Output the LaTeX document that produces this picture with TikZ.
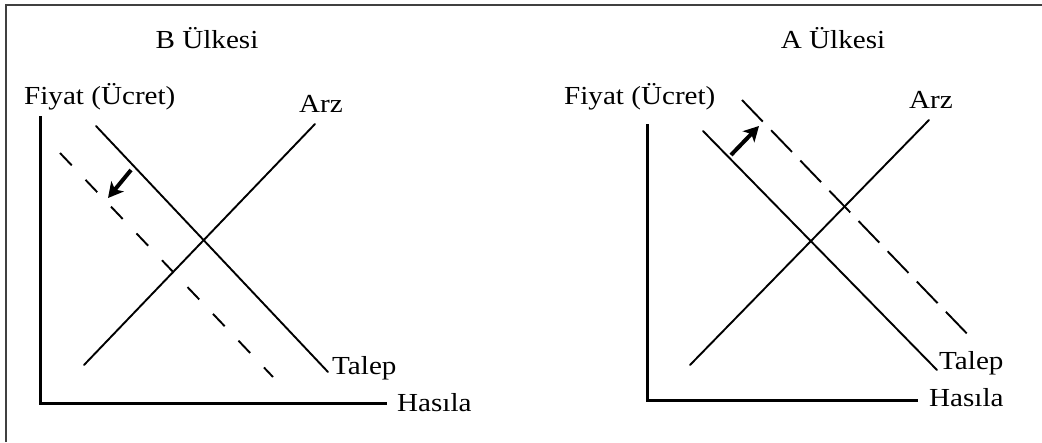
\documentclass[tikz,border=0pt]{standalone}
\usepackage{fontspec}
\usepackage{graphicx}
\setmainfont{Liberation Serif}
\usetikzlibrary{arrows.meta}
\newcommand{\widetxt}[1]{\scalebox{1.12}[1.0]{#1}}
\begin{document}
\begin{tikzpicture}[x=1pt,y=-1pt,
  lbl/.style={font=\fontsize{26}{30}\selectfont, inner sep=0pt},
  axis/.style={line width=3pt, line cap=rect},
  curve/.style={line width=1.9pt, line cap=round},
  shiftL/.style={line width=1.9pt, dash pattern=on 17pt off 20pt},
  shiftR/.style={line width=1.9pt, dash pattern=on 30pt off 12pt},
  shiftarrow/.style={line width=4pt, -{Stealth[length=15pt,width=16pt,inset=4pt]}},
  frame/.style={line width=2pt, draw=black!75}]
\useasboundingbox (0,0) rectangle (1042,442);
\fill[white] (0,0) rectangle (1042,442);
% frame
\coordinate (f1) at (6,442);
\coordinate (f2) at (6,5);
\coordinate (f3) at (1042,5);
\draw[frame] (f1) -- (f2) -- (f3);

% ---------- left panel: B Ulkesi ----------
\node[lbl] (titleB) at (207,38) {\widetxt{B Ülkesi}};
\node[lbl, anchor=west] (yB) at (24,97) {\widetxt{Fiyat (Ücret)}};
\node[lbl] (arzB) at (321,104) {\widetxt{Arz}};
\node[lbl, anchor=west] (talepB) at (332,368) {\widetxt{Talep}};
\node[lbl, anchor=west] (hasB) at (397,403) {\widetxt{Hasıla}};
\coordinate (oB) at (40,403);
\coordinate (ytB) at (40,117);
\coordinate (xtB) at (385,403);
\draw[axis] (ytB) -- (oB) -- (xtB);
\coordinate (d1B) at (96,126);
\coordinate (d2B) at (328,372);
\draw[curve] (d1B) -- (d2B);
\coordinate (s1B) at (84,365);
\coordinate (s2B) at (315,124);
\draw[curve] (s1B) -- (s2B);
\coordinate (n1B) at (60,153);
\coordinate (n2B) at (273,377);
\draw[shiftL] (n1B) -- (n2B);
\coordinate (a1B) at (131,170);
\coordinate (a2B) at (108,198);
\draw[shiftarrow] (a1B) -- (a2B);

% ---------- right panel: A Ulkesi ----------
\node[lbl] (titleA) at (833,38) {\widetxt{A Ülkesi}};
\node[lbl, anchor=west] (yA) at (564,97) {\widetxt{Fiyat (Ücret)}};
\node[lbl] (arzA) at (931,100) {\widetxt{Arz}};
\node[lbl, anchor=west] (talepA) at (939,363) {\widetxt{Talep}};
\node[lbl, anchor=west] (hasA) at (929,398) {\widetxt{Hasıla}};
\coordinate (oA) at (647,400);
\coordinate (ytA) at (647,125);
\coordinate (xtA) at (916,400);
\draw[axis] (ytA) -- (oA) -- (xtA);
\coordinate (d1A) at (703,131);
\coordinate (d2A) at (937,370);
\draw[curve] (d1A) -- (d2A);
\coordinate (s1A) at (690,365);
\coordinate (s2A) at (929,120);
\draw[curve] (s1A) -- (s2A);
\coordinate (n1A) at (742,100);
\coordinate (n2A) at (975,342);
\draw[shiftR] (n1A) -- (n2A);
\coordinate (a1A) at (731,155);
\coordinate (a2A) at (759,126);
\draw[shiftarrow] (a1A) -- (a2A);
\end{tikzpicture}
\end{document}
